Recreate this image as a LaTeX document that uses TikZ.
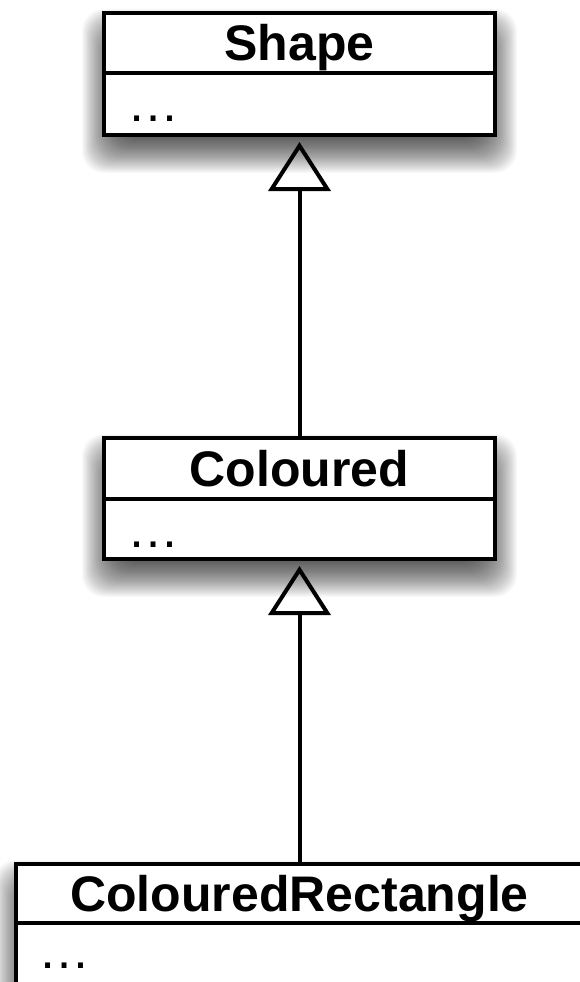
\documentclass[tikz,border=0pt]{standalone}
\usepackage{fontspec}
\newfontfamily\hel{Liberation Sans}
\usetikzlibrary{arrows.meta}
\newcommand\myshadow[4]{%
  \foreach \e in {-20,-19,...,22}{%
    \fill[black,opacity=0.024,rounded corners=22pt] (#1-\e,#2+18-\e) rectangle (#3+\e,#4+16+\e);
  }%
}
\tikzset{
  ctitle/.style={draw=black, fill=white, line width=4pt, inner sep=0pt,
    font=\hel\bfseries\fontsize{50}{50}\selectfont, text height=40pt, text depth=4pt},
  cbody/.style={draw=black, fill=white, line width=4pt, inner sep=0pt},
  cdots/.style={inner sep=0pt, font=\hel\fontsize{52}{52}\selectfont},
  inherit/.style={line width=4pt, -{Triangle[open, length=49pt, width=62pt]}, shorten >=5pt}
}
\begin{document}
\begin{tikzpicture}[x=1pt,y=-1pt]
\useasboundingbox (0,0) rectangle (580,982);
\clip (0,0) rectangle (580,982);
\fill[white] (0,0) rectangle (580,982);
% shadows
\myshadow{104}{13}{495}{135}
\myshadow{104}{438}{495}{559}
\myshadow{16}{864}{583}{985}
% Shape
\node[ctitle, minimum width=391pt, minimum height=60pt] (shapeT) at (299.5,43) {Shape};
\node[cbody, minimum width=391pt, minimum height=62pt] (shapeB) at (299.5,104) {};
\node[cdots, anchor=base west] (shapeD) at (127,121) {…};
% Coloured
\node[ctitle, minimum width=391pt, minimum height=61pt] (colT) at (299.5,468.5) {Coloured};
\node[cbody, minimum width=391pt, minimum height=60pt] (colB) at (299.5,529) {};
\node[cdots, anchor=base west] (colD) at (127,547) {…};
% ColouredRectangle
\node[ctitle, minimum width=567pt, minimum height=59pt] (crT) at (299.5,893.5) {ColouredRectangle};
\node[cbody, minimum width=567pt, minimum height=62pt] (crB) at (299.5,954) {};
\node[cdots, anchor=base west] (crD) at (38,968) {…};
% connectors
\draw[inherit] (colT.north) -- (shapeB.south);
\draw[inherit] (crT.north) -- (colB.south);
\end{tikzpicture}
\end{document}
